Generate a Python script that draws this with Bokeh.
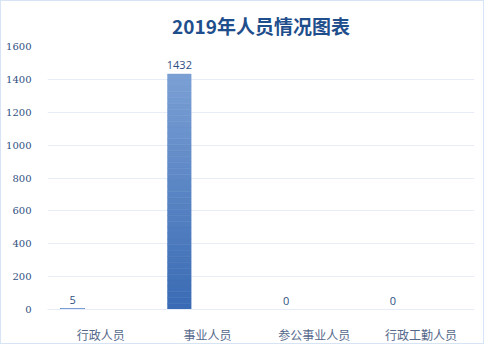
from bokeh.plotting import figure
from bokeh.models import ColumnDataSource, FactorRange, Range1d, FixedTicker, Title
from bokeh.transform import dodge
from bokeh.core.properties import value
from bokeh.embed import file_html
from bokeh.resources import INLINE

categories = ["行政人员", "事业人员", "参公事业人员", "行政工勤人员"]
counts = [5, 1432, 0, 0]
y_ticks = [0, 200, 400, 600, 800, 1000, 1200, 1400, 1600]

p = figure(width=484, height=344, x_range=FactorRange(*categories),
           y_range=Range1d(0, 1600), output_backend="svg", toolbar_location=None,
           min_border_left=46, min_border_right=11, min_border_bottom=36, min_border_top=10)
p.title = Title(text="2019年人员情况图表", align="center", text_font="Noto Sans CJK SC",
                text_font_size="19px", text_font_style="bold", text_color="#1f4e8c",
                standoff=16)
p.background_fill_color = "white"
p.border_fill_color = "white"
p.outline_line_color = None
p.styles = {"border": "1px solid #d6e4f5"}

# gradient bars built from data slices
n = 40
def lerp(c1, c2, t):
    a = [int(c1[i:i+2], 16) for i in (1, 3, 5)]
    b = [int(c2[i:i+2], 16) for i in (1, 3, 5)]
    return "#%02x%02x%02x" % tuple(int(round(a[k] + (b[k]-a[k])*t)) for k in range(3))

xs, bots, tops, cols = [], [], [], []
for c, v in zip(categories, counts):
    if v <= 0:
        continue
    for i in range(n):
        xs.append(c)
        bots.append(v * i / n)
        tops.append(v * (i + 1) / n)
        cols.append(lerp("#3a6bb4", "#7a9fd4", i / (n - 1)))
slices = ColumnDataSource(dict(cat=xs, bottom=bots, top=tops, color=cols))
p.vbar(x=dodge("cat", -0.265, range=p.x_range), bottom="bottom", top="top", width=0.22,
       fill_color="color", line_color="color", line_width=0.6, source=slices)

src = ColumnDataSource(dict(cat=categories, v=counts, lab=[str(c) for c in counts]))
p.text(x=dodge("cat", -0.265, range=p.x_range), y="v", text="lab", source=src,
       text_align="center", text_baseline="bottom", y_offset=-5,
       text_font=value("Open Sans"), text_font_size="11px", text_color="#2f4f7f")

p.xgrid.grid_line_color = None
p.ygrid.grid_line_color = "#e6edf8"
p.ygrid.grid_line_width = 1

p.yaxis.ticker = FixedTicker(ticks=y_ticks)
p.yaxis.axis_line_color = None
p.yaxis.major_tick_line_color = None
p.yaxis.minor_tick_line_color = None
p.yaxis.major_label_text_font = "DejaVu Serif"
p.yaxis.major_label_text_font_size = "10px"
p.yaxis.major_label_text_color = "#2f4f7f"
p.yaxis.major_label_standoff = 10

p.xaxis.axis_line_color = "#e6edf8"
p.xaxis.major_tick_line_color = None
p.xaxis.minor_tick_line_color = None
p.xaxis.major_label_text_font = "Noto Sans CJK SC"
p.xaxis.major_label_text_font_size = "12px"
p.xaxis.major_label_text_color = "#55688a"
p.xaxis.major_label_standoff = 10
p.x_range.range_padding = 0

open("out.html", "w").write(file_html(p, INLINE))
